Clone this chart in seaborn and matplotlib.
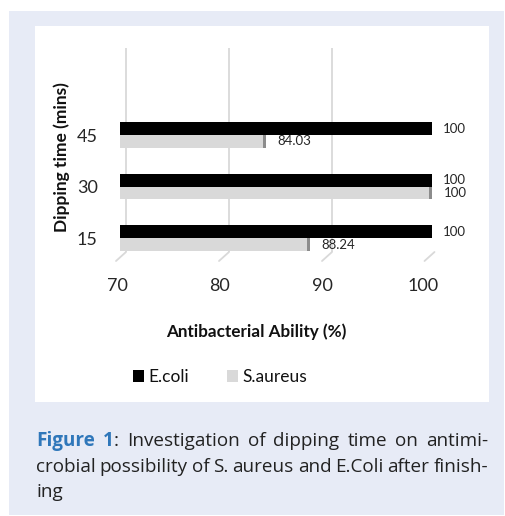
import matplotlib
matplotlib.use("Agg")
import matplotlib.pyplot as plt
import numpy as np
import pandas as pd
import seaborn as sns
from matplotlib.patches import Rectangle, Patch
from matplotlib.lines import Line2D
from matplotlib.transforms import ScaledTranslation, IdentityTransform

# ---------------- data ----------------
dipping_times = ["45", "30", "15"]
ecoli = [100, 100, 100]
saureus = [84.03, 100, 88.24]
organisms = ["E.coli", "S.aureus"]
x_ticks = [70, 80, 90, 100]
x_label = "Antibacterial Ability (%)"
y_label = "Dipping time (mins)"

df = pd.DataFrame({
    "Dipping time": dipping_times * 2,
    "Value": ecoli + saureus,
    "Organism": [organisms[0]] * 3 + [organisms[1]] * 3,
})

# ---------------- style ----------------
sns.set_theme(style="white")
plt.rcParams["font.family"] = ["Lato", "DejaVu Sans"]

W, H = 505, 516
DPI = 100
fig = plt.figure(figsize=(W / DPI, H / DPI), dpi=DPI)
fig.patch.set_facecolor("white")

BG = "#E7EBF6"
TXT = "#262626"
GRID = "#D9D9D9"
BLACK = "#000000"
LIGHT = "#D9D9D9"


def fx(px):
    return px / W


def fy(py):
    return 1 - py / H


fig.add_artist(Rectangle((fx(9), fy(515)), (504 - 9) / W, (515 - 11) / H,
                         transform=fig.transFigure, facecolor=BG,
                         edgecolor="none", zorder=-2))
fig.add_artist(Rectangle((fx(35), fy(402)), (489 - 35) / W, (402 - 26) / H,
                         transform=fig.transFigure, facecolor="white",
                         edgecolor="none", zorder=-1))

# axes: bars run from x=120 (70) to x=432 (100); grid from y=48 to 252
ax = fig.add_axes([fx(120), fy(252), (432 - 120) / W, (252 - 48) / H])
ax.patch.set_alpha(0)

sns.barplot(data=df, y="Dipping time", x="Value", hue="Organism",
            order=dipping_times, hue_order=organisms,
            palette=[BLACK, LIGHT], width=0.5, orient="h",
            errorbar=None, saturation=1, linewidth=0,
            legend=False, ax=ax)

ax.set_xlim(70, 100)
ax.set_ylim(2.27, -1.69)
for s in ax.spines.values():
    s.set_visible(False)

ax.set_xticks(x_ticks)
ax.set_xticklabels([str(v) for v in x_ticks])
ax.tick_params(axis="x", length=0, pad=19, labelsize=13, labelcolor=TXT)
ax.tick_params(axis="y", length=0, pad=16, labelsize=13, labelcolor=TXT)

ax.grid(axis="x", color=GRID, lw=1.3)
ax.grid(axis="y", visible=False)
ax.set_axisbelow(True)

# perspective offsets (back wall gridlines / front floor labels)
grid_off = [6, 5, 4, 2.5]
lab_off = [-3, -5, -6, -9]
for gl, o in zip(ax.get_xgridlines(), grid_off):
    gl.set_transform(gl.get_transform() + ScaledTranslation(o / DPI, 0, fig.dpi_scale_trans))
for lab, o in zip(ax.get_xticklabels(), lab_off):
    lab.set_transform(lab.get_transform() + ScaledTranslation(o / DPI, 0, fig.dpi_scale_trans))

# floor diagonals
for v, o in zip(x_ticks, grid_off):
    xd, yd = ax.transData.transform((v, 2.27))
    x_top = xd + o
    y_top = yd
    fig.add_artist(Line2D([x_top, x_top - 10], [y_top, y_top - 9],
                          transform=IdentityTransform(), color=GRID, lw=1.3,
                          zorder=0))

# side face of light bars
cont_e, cont_s = ax.containers[0], ax.containers[1]
unit = 1.0 / ((432 - 120) / 30.0)  # data units per pixel
for p in cont_s.patches:
    xe = p.get_x() + p.get_width()
    ax.add_patch(Rectangle((xe - 3 * unit, p.get_y()), 3 * unit, p.get_height(),
                           facecolor="#8c8c8c", edgecolor="none", zorder=3))

lab_shift = ScaledTranslation(0, -2 / DPI, fig.dpi_scale_trans)
for t in ax.bar_label(cont_e, labels=["%g" % v for v in ecoli], padding=8,
                      fontsize=9.5, color=TXT):
    t.set_transform(t.get_transform() + lab_shift)
for t in ax.bar_label(cont_s, labels=["%g" % v for v in saureus], padding=8.5,
                      fontsize=9.5, color=TXT):
    t.set_transform(t.get_transform() + lab_shift)

ax.set_xlabel(x_label, fontsize=12.3, fontweight="bold", color="#111111")
ax.xaxis.set_label_coords((256 - 120) / 312, (252 - 332) / 204)
ax.xaxis.label.set_va("center")
ax.set_ylabel(y_label, fontsize=12.5, fontweight="bold", color="#111111")
ax.yaxis.set_label_coords((62 - 120) / 312, (252 - 157) / 204)
ax.yaxis.label.set_va("center")
ax.yaxis.label.set_rotation_mode("default")

handles = [Patch(facecolor=BLACK, edgecolor="none"),
           Patch(facecolor=LIGHT, edgecolor="none")]
fig.legend(handles, organisms, loc="center", bbox_to_anchor=(fx(220), fy(377)),
           ncol=2, frameon=False, fontsize=12.5, handlelength=0.65,
           handleheight=0.65, handletextpad=0.25, columnspacing=2.2,
           labelcolor="#111111")

# ---------------- caption (justified) ----------------
CAP_FONT = ["Open Sans", "DejaVu Sans"]
CAP_SIZE = 13.6
BLUE = "#2F77BA"
CAP_TXT = "#222222"

renderer = fig.canvas.get_renderer()

line1 = [[("Figure", "bold", BLUE)], [("1", "bold", BLUE), (":", "normal", CAP_TXT)]] + \
    [[(w, "normal", CAP_TXT)] for w in "Investigation of dipping time on antimi-".split()]
line2 = [[(w, "normal", CAP_TXT)] for w in
         "crobial possibility of S. aureus and E.Coli after finish-".split()]
line3 = [[("ing", "normal", CAP_TXT)]]


def draw_line(words, x0, x1, ybase, justify):
    placed = []
    widths = []
    for w in words:
        runs = []
        wtot = 0
        for t, weight, col in w:
            tx = fig.text(0, 0, t, transform=IdentityTransform(),
                          family=CAP_FONT, size=CAP_SIZE, weight=weight,
                          color=col, ha="left", va="baseline")
            bb = tx.get_window_extent(renderer)
            runs.append((tx, bb.width))
            wtot += bb.width
        placed.append(runs)
        widths.append(wtot)
    if justify and len(words) > 1:
        gap = (x1 - x0 - sum(widths)) / (len(words) - 1)
    else:
        gap = 0
    x = x0
    for runs, wt in zip(placed, widths):
        xx = x
        for tx, wd in runs:
            tx.set_position((xx, H - ybase))
            xx += wd
        x += wt + gap


draw_line(line1, 36, 488, 446, True)
draw_line(line2, 36, 488, 472, True)
draw_line(line3, 36, 488, 497, False)

fig.savefig("out.png", dpi=DPI, facecolor=fig.get_facecolor())
